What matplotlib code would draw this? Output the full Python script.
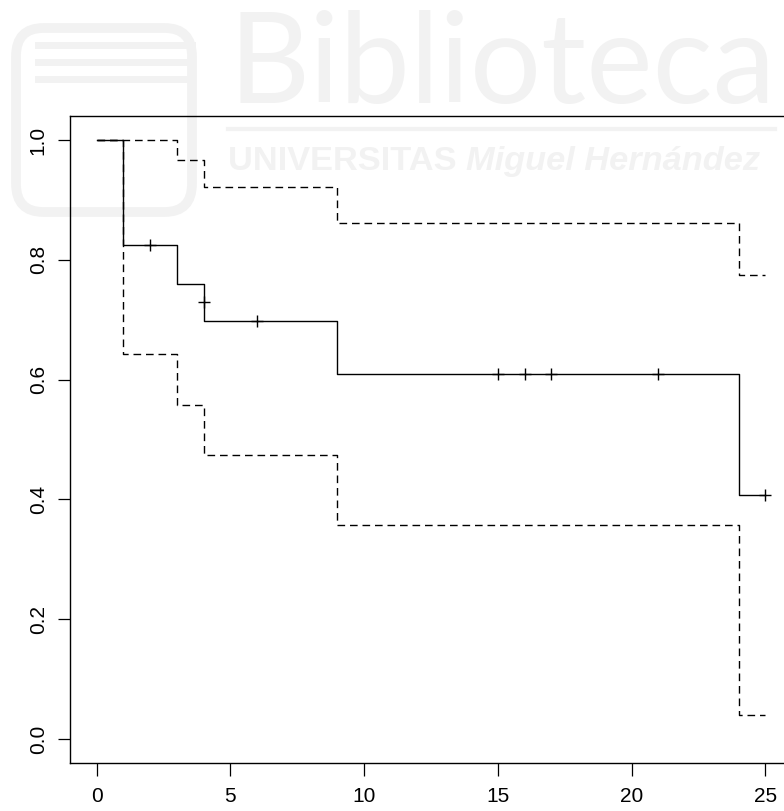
import matplotlib
matplotlib.use("Agg")
import matplotlib.pyplot as plt
from matplotlib.patches import FancyBboxPatch
from matplotlib.lines import Line2D

# Kaplan-Meier estimate with 95% confidence band
times = [0, 1, 3, 4, 9, 24, 25]
surv = [1.0, 0.824, 0.760, 0.697, 0.610, 0.407, 0.407]
upper = [1.0, 1.0, 0.967, 0.921, 0.862, 0.774, 0.774]
lower = [1.0, 0.642, 0.557, 0.474, 0.358, 0.040, 0.040]

# censored observations
censor_t = [2, 4, 6, 15, 16, 17, 21, 25]
censor_s = [0.824, 0.730, 0.697, 0.610, 0.610, 0.610, 0.610, 0.407]

xticks = [0, 5, 10, 15, 20, 25]
yticks = [0.0, 0.2, 0.4, 0.6, 0.8, 1.0]

W, H = 784, 811
fig = plt.figure(figsize=(W / 100, H / 100), dpi=100)
fig.patch.set_facecolor("white")

# faint library watermark behind the plot
wm = "#f2f2f2"
fig.patches.append(FancyBboxPatch((16 / W, 1 - 212 / H), 176 / W, 184 / H,
                                  boxstyle="round,pad=0,rounding_size=0.035",
                                  transform=fig.transFigure, fill=False,
                                  edgecolor=wm, linewidth=7, zorder=-5))
for yy in [45, 62, 79]:
    fig.lines.append(Line2D([38 / W, 192 / W], [1 - yy / H, 1 - yy / H],
                            transform=fig.transFigure, color=wm, lw=5, zorder=-5))
fig.lines.append(Line2D([228 / W, 775 / W], [1 - 129 / H, 1 - 129 / H],
                        transform=fig.transFigure, color=wm, lw=3, zorder=-5))

t1 = fig.text(228 / W, 1 - 103 / H, "Biblioteca", fontsize=75, color=wm,
              family=["Lato", "DejaVu Sans"],
              ha="left", va="baseline", zorder=-5)
t2 = fig.text(228 / W, 1 - 170 / H, "UNIVERSITAS ", fontsize=22, color=wm,
              family=["Liberation Sans"], fontweight="bold",
              ha="left", va="baseline", zorder=-5)

# fit watermark widths
renderer = fig.canvas.get_renderer()
bb = t1.get_window_extent(renderer)
t1.set_fontsize(75 * (775 - 228) / bb.width)
bb2 = t2.get_window_extent(renderer)
t3 = fig.text(bb2.x1 / W, 1 - 170 / H, "Miguel Hernández", fontsize=22, color=wm,
              family=["Liberation Sans"], fontweight="bold", style="italic",
              ha="left", va="baseline", zorder=-5)
bb3 = t3.get_window_extent(renderer)
scale = (760 - 228) / (bb3.x1 - 228)
t2.set_fontsize(22 * scale)
bb2 = t2.get_window_extent(renderer)
t3.set_fontsize(22 * scale)
t3.set_x(bb2.x1 / W)

# axes placed like the R plot region (right edge runs past the image)
ax = fig.add_axes([70 / W, 48 / H, 722 / W, 647 / H])
ax.patch.set_alpha(0)

ax.step(times, surv, where="post", color="black", lw=1.0)
ax.step(times, upper, where="post", color="black", lw=1.0, linestyle=(0, (5.5, 3.5)))
ax.step(times, lower, where="post", color="black", lw=1.0, linestyle=(0, (5.5, 3.5)))
ax.plot(censor_t, censor_s, linestyle="none", marker="+", color="black",
        markersize=9, markeredgewidth=1.0)

ax.set_xlim(-1, 26)
ax.set_ylim(-0.04, 1.04)
ax.set_xticks(xticks)
ax.set_xticklabels([str(v) for v in xticks])
ax.set_yticks(yticks)
ax.set_yticklabels(["%.1f" % v for v in yticks], rotation=90, va="center")

for s in ax.spines.values():
    s.set_linewidth(1.0)
ax.tick_params(axis="both", length=9, width=0.9, labelsize=15, direction="out")
ax.tick_params(axis="x", pad=8)
ax.tick_params(axis="y", pad=7)
for lab in ax.get_xticklabels() + ax.get_yticklabels():
    lab.set_family(["Liberation Sans", "DejaVu Sans"])

fig.savefig("out.png", dpi=100)
